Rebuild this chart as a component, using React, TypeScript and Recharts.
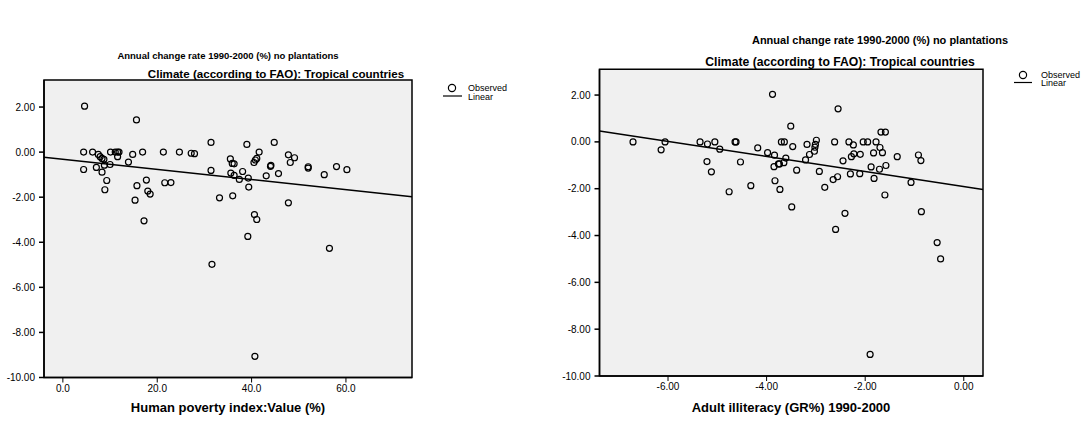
import React from "react";
import {
  ScatterChart,
  Scatter,
  XAxis,
  YAxis,
  CartesianGrid,
  ReferenceArea,
  ReferenceLine,
} from "recharts";

// Left chart: Human poverty index (x) vs annual change rate (y)
const povertyIndex = [
  4.6, 15.6, 4.4, 6.3, 7.5, 7.9, 8.3, 8.7, 10.1, 11.1, 11.6, 11.9, 11.6, 14.8, 16.9, 21.3, 24.7, 27.2, 27.9,
  31.4, 39.0, 44.8, 4.4, 7.1, 8.8, 8.3, 10.0, 9.3, 8.9, 13.9, 17.7, 15.7, 18.0, 18.5, 15.3, 17.2, 21.6, 22.9,
  31.4, 33.2, 31.6, 35.5, 35.9, 36.3, 35.6, 36.3, 37.4, 38.1, 39.3, 39.4, 36.0, 39.2, 40.6, 41.1, 40.5, 40.8,
  41.1, 41.6, 44.1, 44.0, 43.1, 45.7, 47.8, 49.1, 48.2, 52.0, 52.0, 55.4, 58.0, 60.2, 47.8, 56.5, 40.7,
];
const povertyChange = [
  2.04, 1.43, 0.0, 0.0, -0.1, -0.2, -0.28, -0.32, 0.0, 0.0, 0.0, 0.0, -0.2, -0.1, 0.0, 0.0, 0.0, -0.05, -0.07,
  0.43, 0.34, 0.43, -0.77, -0.68, -0.58, -0.89, -0.55, -1.26, -1.67, -0.44, -1.24, -1.49, -1.73, -1.86, -2.13,
  -3.05, -1.36, -1.35, -0.81, -2.03, -4.98, -0.3, -0.5, -0.52, -0.93, -1.03, -1.21, -0.86, -1.15, -1.55, -1.94,
  -3.74, -2.77, -2.99, -0.46, -0.35, -0.28, 0.0, -0.59, -0.63, -1.05, -0.95, -0.12, -0.25, -0.46, -0.65, -0.71,
  -1.0, -0.64, -0.78, -2.25, -4.27, -9.06,
];
const povertyFitX = [-4, 74];
const povertyFitY = [-0.23, -1.98];
const povertyXTicks = [0, 20, 40, 60];

// Right chart: Adult illiteracy growth rate (x) vs annual change rate (y)
const illiteracyGrowth = [
  -6.71, -6.14, -6.06, -5.35, -5.2, -5.05, -4.95, -5.21, -5.12, -4.76, -4.64, -4.62, -4.53, -4.32, -4.18, -3.98,
  -3.88, -3.84, -3.85, -3.76, -3.74, -3.65, -3.61, -3.83, -3.73, -3.7, -3.64, -3.51, -3.47, -3.39, -3.49, -3.21,
  -3.18, -3.13, -3.03, -3.02, -3.01, -2.99, -2.93, -2.82, -2.62, -2.55, -2.45, -2.65, -2.56, -2.41, -2.6, -2.33,
  -2.24, -2.28, -2.23, -2.1, -2.3, -2.11, -2.04, -1.95, -1.78, -1.68, -1.59, -1.7, -1.83, -1.65, -1.88, -1.71,
  -1.58, -1.82, -1.6, -1.35, -1.07, -0.92, -0.87, -0.86, -0.54, -0.47, -1.9,
];
const illiteracyChange = [
  0.0, -0.34, 0.0, 0.0, -0.09, 0.0, -0.31, -0.84, -1.28, -2.13, 0.0, 0.0, -0.86, -1.87, -0.26, -0.46, 2.03,
  -0.57, -1.06, -0.94, -0.94, -0.89, -0.69, -1.66, -2.03, 0.0, 0.0, 0.67, -0.2, -1.21, -2.78, -0.77, -0.11,
  -0.54, -0.4, -0.23, -0.11, 0.07, -1.26, -1.94, 0.0, 1.41, -0.81, -1.61, -1.49, -3.05, -3.74, 0.0, -0.13,
  -0.63, -0.51, -0.53, -1.37, -1.36, 0.0, 0.0, 0.0, 0.42, 0.42, -0.24, -0.47, -0.46, -1.07, -1.17, -1.01,
  -1.56, -2.27, -0.63, -1.73, -0.56, -0.8, -2.98, -4.3, -5.0, -9.08,
];
const illiteracyFitX = [-7.39, 0.39];
const illiteracyFitY = [0.46, -2.03];
const illiteracyXTicks = [-6, -4, -2, 0];

const yTicks = [-10, -8, -6, -4, -2, 0, 2];

const FONT = "Arial, 'Liberation Sans', sans-serif";

const zip = (xs: number[], ys: number[]) => xs.map((x, i) => ({ x, y: ys[i] }));

const Dot = (props: any) => {
  const { cx, cy } = props;
  if (cx == null || cy == null) return null;
  return <circle cx={cx} cy={cy} r={3} fill="none" stroke="#000" strokeWidth={1.2} />;
};

type PanelProps = {
  left: number;
  width: number;
  top: number;
  bottom: number;
  marginRight: number;
  yAxisWidth: number;
  xDomain: [number, number];
  yDomain: [number, number];
  xTicks: number[];
  xDigits: number;
  xs: number[];
  ys: number[];
  fitX: number[];
  fitY: number[];
};

function Panel(p: PanelProps) {
  const data = zip(p.xs, p.ys);
  const tickStyle = { fill: "#000", fontSize: 10, fontFamily: FONT };
  return (
    <div style={{ position: "absolute", left: p.left, top: 0 }}>
      <ScatterChart
        width={p.width}
        height={421}
        margin={{ top: p.top, right: p.marginRight, bottom: 0, left: 0 }}
      >
        <CartesianGrid fill="#f0f0f0" horizontal={false} vertical={false} stroke="none" />
        <XAxis
          type="number"
          dataKey="x"
          domain={p.xDomain}
          ticks={p.xTicks}
          allowDataOverflow
          height={p.bottom}
          tickSize={5}
          tickMargin={2}
          tick={tickStyle}
          tickFormatter={(v: number) => v.toFixed(p.xDigits)}
          axisLine={{ stroke: "#000", strokeWidth: 1.5 }}
          tickLine={{ stroke: "#000", strokeWidth: 1 }}
        />
        <YAxis
          type="number"
          dataKey="y"
          domain={p.yDomain}
          ticks={yTicks}
          allowDataOverflow
          width={p.yAxisWidth}
          tickSize={5}
          tickMargin={4}
          tick={tickStyle}
          tickFormatter={(v: number) => v.toFixed(2)}
          axisLine={{ stroke: "#000", strokeWidth: 1.5 }}
          tickLine={{ stroke: "#000", strokeWidth: 1.5 }}
        />
        <ReferenceArea
          x1={p.xDomain[0]}
          x2={p.xDomain[1]}
          y1={p.yDomain[0]}
          y2={p.yDomain[1]}
          fill="none"
          fillOpacity={0}
          stroke="#000"
          strokeWidth={1.5}
          ifOverflow="visible"
        />
        <ReferenceLine
          segment={[
            { x: p.fitX[0], y: p.fitY[0] },
            { x: p.fitX[1], y: p.fitY[1] },
          ]}
          stroke="#000"
          strokeWidth={1.5}
          ifOverflow="visible"
        />
        <Scatter data={data} shape={Dot} isAnimationActive={false} />
      </ScatterChart>
    </div>
  );
}

export default function App() {
  const bold = { fontFamily: FONT, fontWeight: 700, fill: "#000" } as const;
  const reg = { fontFamily: FONT, fill: "#000" } as const;
  return (
    <div
      style={{
        position: "absolute",
        left: 0,
        top: 0,
        width: 1084,
        height: 421,
        background: "#fff",
      }}
    >
      <Panel
        left={0}
        width={540}
        top={80}
        bottom={43.5}
        marginRight={128}
        yAxisWidth={44}
        xDomain={[-4, 74]}
        yDomain={[-10, 3.2]}
        xTicks={povertyXTicks}
        xDigits={1}
        xs={povertyIndex}
        ys={povertyChange}
        fitX={povertyFitX}
        fitY={povertyFitY}
      />
      <Panel
        left={540}
        width={544}
        top={69.3}
        bottom={45}
        marginRight={101}
        yAxisWidth={59.5}
        xDomain={[-7.39, 0.39]}
        yDomain={[-10, 3.1]}
        xTicks={illiteracyXTicks}
        xDigits={2}
        xs={illiteracyGrowth}
        ys={illiteracyChange}
        fitX={illiteracyFitX}
        fitY={illiteracyFitY}
      />
      <svg
        width={1084}
        height={421}
        style={{ position: "absolute", left: 0, top: 0, pointerEvents: "none" }}
      >
        <text x={228} y={55} textAnchor="middle" dominantBaseline="central" fontSize={9.5} {...bold}>
          Annual change rate 1990-2000 (%) no plantations
        </text>
        <text x={880} y={40} textAnchor="middle" dominantBaseline="central" fontSize={11} {...bold}>
          Annual change rate 1990-2000 (%) no plantations
        </text>
        <text x={276} y={73} textAnchor="middle" dominantBaseline="central" fontSize={11.6} {...bold}>
          Climate (according to FAO): Tropical countries
        </text>
        <text x={840} y={62} textAnchor="middle" dominantBaseline="central" fontSize={12.2} {...bold}>
          Climate (according to FAO): Tropical countries
        </text>
        <text x={228} y={407} textAnchor="middle" dominantBaseline="central" fontSize={13} {...bold}>
          Human poverty index:Value (%)
        </text>
        <text x={791} y={407} textAnchor="middle" dominantBaseline="central" fontSize={13} {...bold}>
          Adult illiteracy (GR%) 1990-2000
        </text>

        <circle cx={452} cy={88} r={3.6} fill="none" stroke="#000" strokeWidth={1.2} />
        <text x={468} y={88} dominantBaseline="central" fontSize={9} {...reg}>Observed</text>
        <line x1={443} x2={462} y1={96} y2={96} stroke="#000" strokeWidth={1.2} />
        <text x={468} y={97} dominantBaseline="central" fontSize={9} {...reg}>Linear</text>

        <circle cx={1023} cy={75} r={3.6} fill="none" stroke="#000" strokeWidth={1.2} />
        <text x={1041} y={75} dominantBaseline="central" fontSize={9} {...reg}>Observed</text>
        <line x1={1014} x2={1032} y1={82.5} y2={82.5} stroke="#000" strokeWidth={1.2} />
        <text x={1041} y={83} dominantBaseline="central" fontSize={9} {...reg}>Linear</text>
      </svg>
    </div>
  );
}
